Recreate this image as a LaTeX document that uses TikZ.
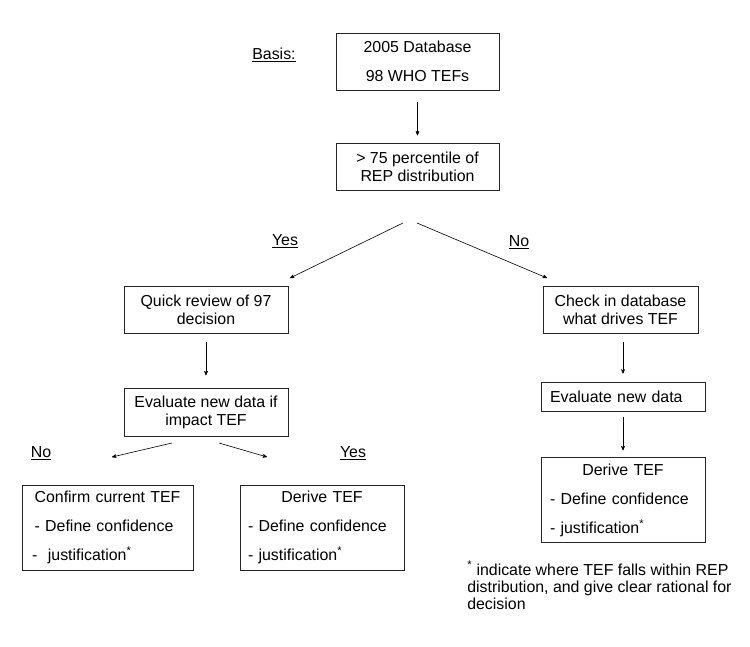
\documentclass[tikz,border=0pt]{standalone}
\usepackage{fontspec}
\setmainfont{Liberation Sans}
\usetikzlibrary{arrows,positioning}

\begin{document}
\begin{tikzpicture}[->,>=stealth',x=1pt,y=-1pt,line width=0.6pt,
                    font=\fontsize{15.9}{18}\selectfont]

  \tikzstyle{box}=[rectangle,draw=black!85,line width=0.8pt,inner sep=0pt,
                   align=center,minimum height=47pt]
  \tikzstyle{tall}=[box,minimum height=85pt,align=left,
                    font=\fontsize{15.9}{29}\selectfont]
  \tikzstyle{tag}=[inner sep=0pt]

  \useasboundingbox (0,0) rectangle (750,646);

  \node[tag] (basis) at (274,55) {\underline{Basis:}};
  \node[box,minimum width=163pt,minimum height=57pt,
        font=\fontsize{15.9}{29}\selectfont] (db) at (417.5,61.5) {2005 Database\\98 WHO TEFs};
  \node[box,minimum width=163pt] (rep) [below=53pt of db] {> 75 percentile of\\REP distribution};

  \node[box,minimum width=164pt] (quick) at (206,309.5) {Quick review of 97\\decision};
  \node[box,minimum width=164pt,minimum height=48pt] (evalL) [below=55pt of quick] {Evaluate new data if\\impact TEF};

  \node[box,minimum width=155pt] (check) at (620.5,309.5) {Check in database\\what drives TEF};
  \node[box,minimum width=164pt,minimum height=29pt,text width=146pt,align=left]
        (evalR) at (623,396.5) {Evaluate new data};
  \node[tall,minimum width=164pt,text width=146pt] (deriveR) [below=46pt of evalR]
        {\makebox[\linewidth]{Derive TEF}\\- Define confidence\\- justification\textsuperscript{*}};

  \node[tall,minimum width=171pt,text width=151pt] (confirm) at (107.5,527.5)
        {\makebox[\linewidth]{Confirm current TEF}\\\,- Define confidence\\- \ justification\textsuperscript{*}};
  \node[tall,minimum width=164pt,text width=148pt] (deriveM) at (322,527.5)
        {\makebox[\linewidth]{Derive TEF}\\- Define confidence\\- justification\textsuperscript{*}};

  \node[tag] (yes) at (285,241) {\underline{Yes}};
  \node[tag] (no) at (519,242) {\underline{No}};
  \node[tag] (noL) at (41,453) {\underline{No}};
  \node[tag] (yesL) at (353,453) {\underline{Yes}};

  \node[tag,anchor=north west,align=left,font=\fontsize{15.9}{17}\selectfont] (note) at (467,561)
        {\textsuperscript{*} indicate where TEF falls within REP\\distribution, and give clear rational for\\decision};

  \coordinate (yesTop) at (403,223);
  \coordinate (yesEnd) at (290,278);
  \coordinate (noTop)  at (417,223);
  \coordinate (noEnd)  at (547,278);
  \coordinate (noLTop) at (172,443);
  \coordinate (noLEnd) at (112,457);
  \coordinate (yesLTop) at (219,443);
  \coordinate (yesLEnd) at (267,457);

  \path
  (db) edge [shorten <=12pt,shorten >=8pt] (rep)
  (yesTop) edge (yesEnd)
  (noTop) edge (noEnd)
  (quick) edge [shorten <=9pt,shorten >=13pt] (evalL)
  (evalR.north |- check.south) edge [shorten <=9pt,shorten >=8pt] (evalR.north)
  (evalR) edge [shorten <=6pt,shorten >=7pt] (deriveR)
  (noLTop) edge (noLEnd)
  (yesLTop) edge (yesLEnd)
  ;
\end{tikzpicture}
\end{document}
